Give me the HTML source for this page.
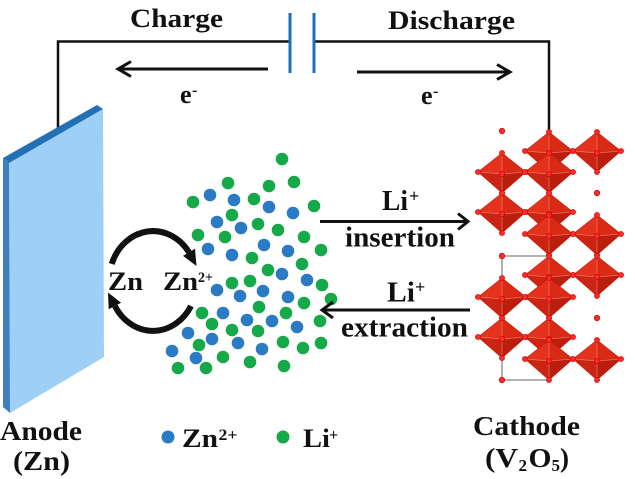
<!DOCTYPE html>
<html><head><meta charset="utf-8"><style>
html,body{margin:0;padding:0;background:#fff;}
svg{display:block;}
text{font-family:"Liberation Serif",serif;font-weight:bold;fill:#111;}
</style></head><body>
<svg width="635" height="479" viewBox="0 0 635 479" xmlns="http://www.w3.org/2000/svg">
<defs>
<g id="oct">
<polygon points="0,0 -24,19 0,21" fill="#e4321c"/>
<polygon points="0,0 24,19 0,21" fill="#da2a16"/>
<polygon points="-24,19 0,40 0,21" fill="#cc2412"/>
<polygon points="24,19 0,40 0,21" fill="#bc1e0e"/>
<polygon points="0,0 24,19 0,40 -24,19" fill="none" stroke="#c81a0a" stroke-width="0.6"/>
<path d="M0 21L0 0M0 21L-24 19M0 21L24 19M0 21L0 40" stroke="#f08878" stroke-width="0.8" opacity="0.7"/>
<g fill="#ff2a2a" stroke="#c80000" stroke-width="0.6">
<circle cx="0" cy="0" r="2.6"/><circle cx="-24" cy="19" r="2.6"/><circle cx="24" cy="19" r="2.6"/><circle cx="0" cy="40" r="2.6"/><circle cx="0" cy="21" r="2.6"/>
</g>
</g>
</defs>

<!-- wires -->
<polyline points="58,133 58,41.5 290,41.5" fill="none" stroke="#111" stroke-width="2.5"/>
<polyline points="314,41.5 549,41.5 549,132" fill="none" stroke="#111" stroke-width="2.5"/>
<line x1="290" y1="13" x2="290" y2="73" stroke="#1e6fbf" stroke-width="3"/>
<line x1="314" y1="13" x2="314" y2="73" stroke="#1e6fbf" stroke-width="3"/>

<!-- top labels -->
<text x="130" y="27" font-size="26" textLength="93" lengthAdjust="spacingAndGlyphs">Charge</text>
<text x="388" y="29" font-size="26" textLength="127" lengthAdjust="spacingAndGlyphs">Discharge</text>

<!-- e- arrows -->
<line x1="268" y1="69" x2="119" y2="69" stroke="#111" stroke-width="3"/>
<polyline points="131,61.5 118,69 131,76.5" fill="none" stroke="#111" stroke-width="3"/>
<line x1="357" y1="72" x2="509" y2="72" stroke="#111" stroke-width="3"/>
<polyline points="497,64.5 510,72 497,79.5" fill="none" stroke="#111" stroke-width="3"/>
<text x="180" y="103" font-size="26">e</text>
<text x="192" y="95" font-size="16">-</text>
<text x="421" y="104" font-size="26">e</text>
<text x="433" y="96" font-size="16">-</text>

<!-- anode -->
<polygon points="9,163 103,109 104,357 10,413" fill="#9dcff7"/>
<polygon points="3,158 9,163 10,413 3,407" fill="#3f7fbf"/>
<polygon points="3,158 97,105 103,109 9,163" fill="#2470b5"/>

<!-- Zn cycle -->
<path d="M111.7 263.9 A44 50 0 0 1 189 252.3" fill="none" stroke="#111" stroke-width="6"/>
<polygon points="196.5,266 195,248.7 183,255.9" fill="#111"/>
<path d="M191 306 A44 50 0 0 1 114.9 306" fill="none" stroke="#111" stroke-width="6"/>
<polygon points="108,292.5 121.1,302.8 108.7,309.2" fill="#111"/>
<text x="108" y="290" font-size="26" textLength="35" lengthAdjust="spacingAndGlyphs">Zn</text>
<text x="163" y="290" font-size="26" textLength="35" lengthAdjust="spacingAndGlyphs">Zn</text>
<text x="198" y="282" font-size="15" textLength="15" lengthAdjust="spacingAndGlyphs">2+</text>

<!-- ions -->
<g fill="#16a94a">
<circle cx="282" cy="159" r="6.3"/><circle cx="228" cy="183" r="6.3"/><circle cx="269" cy="186" r="6.3"/><circle cx="294" cy="182" r="6.3"/>
<circle cx="193" cy="202" r="6.3"/><circle cx="254" cy="199" r="6.3"/><circle cx="314" cy="206" r="6.3"/><circle cx="232" cy="215" r="6.3"/>
<circle cx="258" cy="224" r="6.3"/><circle cx="278" cy="230" r="6.3"/><circle cx="198" cy="235" r="6.3"/><circle cx="225" cy="237" r="6.3"/>
<circle cx="304" cy="237" r="6.3"/><circle cx="252" cy="258" r="6.3"/><circle cx="321" cy="250" r="6.3"/><circle cx="302" cy="264" r="6.3"/>
<circle cx="268" cy="270" r="6.3"/><circle cx="250" cy="281" r="6.3"/><circle cx="232" cy="283" r="6.3"/><circle cx="322" cy="285" r="6.3"/>
<circle cx="331" cy="299" r="6.3"/><circle cx="304" cy="303" r="6.3"/><circle cx="259" cy="307" r="6.3"/><circle cx="202" cy="313" r="6.3"/>
<circle cx="286" cy="313" r="6.3"/><circle cx="212" cy="324" r="6.3"/><circle cx="320" cy="321" r="6.3"/><circle cx="232" cy="330" r="6.3"/>
<circle cx="258" cy="331" r="6.3"/><circle cx="283" cy="342" r="6.3"/><circle cx="199" cy="345" r="6.3"/><circle cx="321" cy="343" r="6.3"/>
<circle cx="303" cy="348" r="6.3"/><circle cx="223" cy="357" r="6.3"/><circle cx="250" cy="362" r="6.3"/><circle cx="178" cy="368" r="6.3"/>
<circle cx="206" cy="368" r="6.3"/><circle cx="284" cy="366" r="6.3"/>
</g>
<g fill="#2b7bc4">
<circle cx="210" cy="195" r="6.3"/><circle cx="234" cy="200" r="6.3"/><circle cx="269" cy="207" r="6.3"/><circle cx="293" cy="213" r="6.3"/>
<circle cx="217" cy="222" r="6.3"/><circle cx="241" cy="228" r="6.3"/><circle cx="208" cy="249" r="6.3"/><circle cx="264" cy="245" r="6.3"/>
<circle cx="232" cy="255" r="6.3"/><circle cx="288" cy="251" r="6.3"/><circle cx="282" cy="274" r="6.3"/><circle cx="307" cy="280" r="6.3"/>
<circle cx="217" cy="290" r="6.3"/><circle cx="263" cy="291" r="6.3"/><circle cx="240" cy="296" r="6.3"/><circle cx="288" cy="297" r="6.3"/>
<circle cx="223" cy="313" r="6.3"/><circle cx="247" cy="320" r="6.3"/><circle cx="272" cy="321" r="6.3"/><circle cx="297" cy="327" r="6.3"/>
<circle cx="188" cy="333" r="6.3"/><circle cx="212" cy="339" r="6.3"/><circle cx="238" cy="343" r="6.3"/><circle cx="262" cy="349" r="6.3"/>
<circle cx="172" cy="351" r="6.3"/><circle cx="196" cy="358" r="6.3"/>
</g>

<!-- Li arrows -->
<text x="382" y="210" font-size="28" textLength="26" lengthAdjust="spacingAndGlyphs">Li</text>
<text x="409" y="202" font-size="18">+</text>
<line x1="320" y1="221.5" x2="467" y2="221.5" stroke="#111" stroke-width="3"/>
<polyline points="458,213.5 468,221.5 458,229.5" fill="none" stroke="#111" stroke-width="3"/>
<text x="345" y="246.5" font-size="28" textLength="110" lengthAdjust="spacingAndGlyphs">insertion</text>

<text x="387" y="301.5" font-size="28" textLength="28" lengthAdjust="spacingAndGlyphs">Li</text>
<text x="415" y="293" font-size="18">+</text>
<line x1="323" y1="310" x2="470" y2="310" stroke="#111" stroke-width="3"/>
<polyline points="333,302 322,310 333,318" fill="none" stroke="#111" stroke-width="3"/>
<text x="341" y="336.5" font-size="28" textLength="127" lengthAdjust="spacingAndGlyphs">extraction</text>

<!-- cathode V2O5 -->
<polyline points="549,256 502,256 502,380 549,380" fill="none" stroke="#999" stroke-width="1.5"/>
<use href="#oct" x="549" y="132"/><use href="#oct" x="597" y="132"/>
<use href="#oct" x="502" y="153"/><use href="#oct" x="549" y="153"/>
<use href="#oct" x="502" y="193"/><use href="#oct" x="549" y="193"/>
<use href="#oct" x="549" y="215"/><use href="#oct" x="597" y="215"/>
<use href="#oct" x="549" y="256"/><use href="#oct" x="597" y="256"/>
<use href="#oct" x="502" y="278"/><use href="#oct" x="549" y="278"/>
<use href="#oct" x="502" y="318"/><use href="#oct" x="549" y="318"/>
<use href="#oct" x="549" y="340"/><use href="#oct" x="597" y="340"/>
<g fill="#ff2a2a" stroke="#c80000" stroke-width="0.6">
<circle cx="502" cy="131" r="2.8"/><circle cx="597" cy="193" r="2.8"/><circle cx="502" cy="256" r="2.8"/>
<circle cx="597" cy="318" r="2.8"/><circle cx="502" cy="380" r="2.8"/>
</g>

<!-- legend -->
<circle cx="168" cy="437" r="6.5" fill="#2b7bc4"/>
<text x="182" y="447" font-size="26" textLength="36" lengthAdjust="spacingAndGlyphs">Zn</text>
<text x="218.5" y="440" font-size="16" textLength="19" lengthAdjust="spacingAndGlyphs">2+</text>
<circle cx="283" cy="437" r="6.5" fill="#16a94a"/>
<text x="303" y="447" font-size="26" textLength="27" lengthAdjust="spacingAndGlyphs">Li</text>
<text x="329" y="440" font-size="16">+</text>

<!-- bottom labels -->
<text x="0" y="440" font-size="27" textLength="82" lengthAdjust="spacingAndGlyphs">Anode</text>
<text x="13" y="470" font-size="27" textLength="57" lengthAdjust="spacingAndGlyphs">(Zn)</text>
<text x="473" y="435" font-size="27" textLength="107" lengthAdjust="spacingAndGlyphs">Cathode</text>
<text x="485" y="467" font-size="27" textLength="33" lengthAdjust="spacingAndGlyphs">(V</text>
<text x="518.5" y="471" font-size="17">2</text>
<text x="528.5" y="467" font-size="27" textLength="23" lengthAdjust="spacingAndGlyphs">O</text>
<text x="551.5" y="471" font-size="17">5</text>
<text x="560" y="467" font-size="27" textLength="9" lengthAdjust="spacingAndGlyphs">)</text>
</svg>
</body></html>
